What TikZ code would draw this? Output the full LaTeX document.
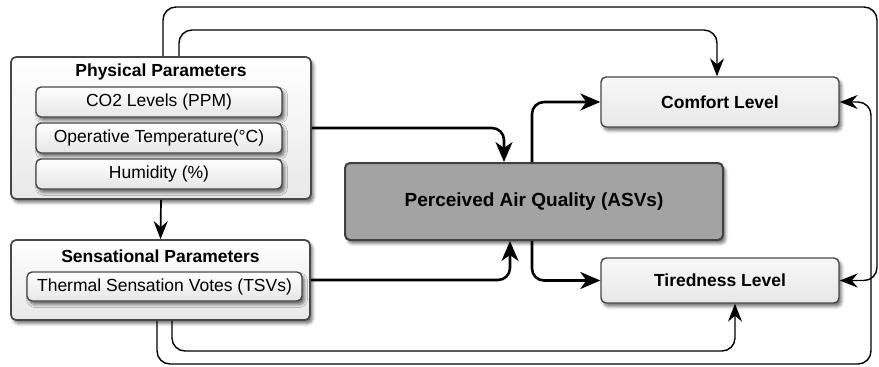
\documentclass[tikz,border=0pt]{standalone}
\usepackage{fontspec}
\setmainfont{Liberation Sans}
\usetikzlibrary{arrows.meta,shadows.blur}
\begin{document}
\begin{tikzpicture}[x=1pt,y=-1pt,
  box/.style={draw=black!72, line width=1.7pt, rounded corners=5pt, inner sep=0pt,
    blur shadow={shadow xshift=2.5pt, shadow yshift=-3.5pt, shadow blur radius=3pt, shadow opacity=55}},
  outerbox/.style={box, top color=white, bottom color=black!9},
  innerbox/.style={box, line width=1.4pt, top color=white, bottom color=black!10, font=\fontsize{17.5}{20}\selectfont},
  levelbox/.style={box, line width=1.4pt, top color=black!3, bottom color=black!9, font=\bfseries\fontsize{17.5}{20}\selectfont},
  centralbox/.style={box, line width=2pt, draw=black!75, fill=black!36, font=\bfseries\fontsize{19}{22}\selectfont},
  titletext/.style={font=\bfseries\fontsize{17.5}{20}\selectfont, inner sep=0pt},
  thickarrow/.style={line width=2.6pt, rounded corners=12pt, -{Stealth[length=20pt,width=17pt,inset=6pt]}},
  thinarrow/.style={line width=1.4pt, rounded corners=13pt, -{Stealth[length=18pt,width=14pt,inset=6pt]}},
]
\useasboundingbox (0,0) rectangle (879,367);

% left groups
\node[outerbox, minimum width=300pt, minimum height=142pt] (phys) at (161,128) {};
\node[titletext] (physT) at (161,72) {Physical Parameters};
\node[innerbox, minimum width=246pt, minimum height=30pt] (co2) at (159,102) {CO2 Levels (PPM)};
\node[innerbox, minimum width=246pt, minimum height=30pt] (oper) at (159,138) {Operative Temperature(°C)};
\node[innerbox, minimum width=246pt, minimum height=30pt] (hum) at (159,174) {Humidity (\%)};

\node[outerbox, minimum width=299pt, minimum height=80pt] (sens) at (160.5,280) {};
\node[titletext] (sensT) at (160.5,256) {Sensational Parameters};
\node[innerbox, minimum width=275pt, minimum height=29pt] (tsv) at (164.5,286.5) {Thermal Sensation Votes (TSVs)};

% centre and right
\node[centralbox, minimum width=378pt, minimum height=77pt] (perc) at (534,201.5) {Perceived Air Quality (ASVs)};
\node[levelbox, minimum width=238pt, minimum height=50pt] (comf) at (720,102) {Comfort Level};
\node[levelbox, minimum width=238pt, minimum height=45pt] (tired) at (720,280.5) {Tiredness Level};

% route corners
\coordinate (topR) at (877,7);
\coordinate (topC) at (717,30);
\coordinate (botR) at (871,364);
\coordinate (botT) at (735,351);

% connectors
\draw[thinarrow, line width=1.7pt] (phys.south) -- (sens.north);
\draw[thickarrow] (phys.east) -| ([xshift=-30pt]perc.north);
\draw[thickarrow] (sens.east) -| ([xshift=-24pt]perc.south);
\draw[thickarrow] ([xshift=-2pt]perc.north) |- (comf.west);
\draw[thickarrow] ([xshift=-2pt]perc.south) |- (tired.west);

\draw[thinarrow] ([xshift=2pt]phys.north) |- (topR) |- (tired.east);
\draw[thinarrow] ([xshift=18pt]phys.north) |- (topC) -- ([xshift=-3pt]comf.north);
\draw[thinarrow] ([xshift=-3.5pt]sens.south) |- (botR) |- (comf.east);
\draw[thinarrow] ([xshift=11.5pt]sens.south) |- (botT) -- ([xshift=15pt]tired.south);
\end{tikzpicture}
\end{document}
